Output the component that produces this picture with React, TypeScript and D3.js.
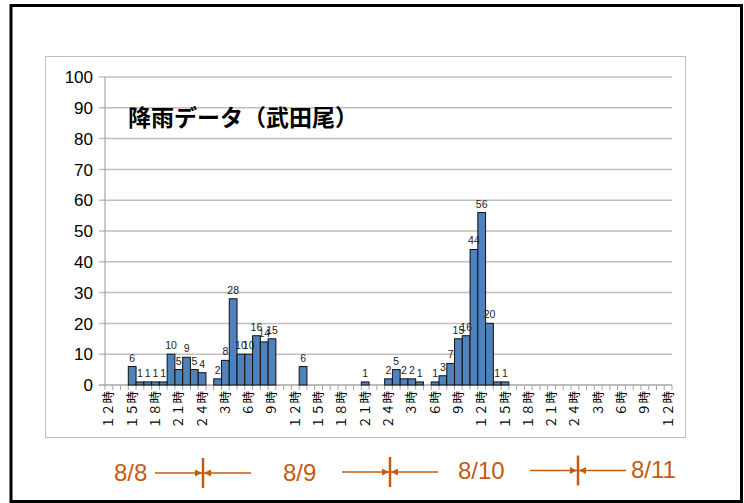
import React from 'react';
import * as d3 from 'd3';

// hourly rainfall, 8/8 12時 .. 8/11 12時 (73 slots)
const rain = [
  0, 0, 0, 6, 1, 1, 1, 1, 10, 5, 9, 5, 4,
  0, 2, 8, 28, 10, 10, 16, 14, 15, 0, 0, 0, 6,
  0, 0, 0, 0, 0, 0, 0, 1, 0, 0, 2, 5, 2, 2, 1,
  0, 1, 3, 7, 15, 16, 44, 56, 20, 1, 1,
  0, 0, 0, 0, 0, 0, 0, 0, 0, 0, 0, 0, 0, 0, 0, 0, 0, 0, 0, 0, 0,
];

const tickLabels = [
  '１２時', '１５時', '１８時', '２１時', '２４時', '３時', '６時', '９時',
  '１２時', '１５時', '１８時', '２１時', '２４時', '３時', '６時', '９時',
  '１２時', '１５時', '１８時', '２１時', '２４時', '３時', '６時', '９時',
  '１２時',
];

const yTicks = [0, 10, 20, 30, 40, 50, 60, 70, 80, 90, 100];
const dayLabels = ['8/8', '8/9', '8/10', '8/11'];

const W = 744;
const H = 503;
const plot = { left: 105, right: 672, top: 77, bottom: 385 };
const orange = '#C55A11';

const App = () => {
  const x = d3.scaleBand<number>()
    .domain(d3.range(rain.length))
    .range([plot.left, plot.right])
    .padding(0);
  const y = d3.scaleLinear().domain([0, 100]).range([plot.bottom, plot.top]);
  const bw = x.bandwidth();

  // day annotation positions along the bottom
  const dayX = [114, 283, 458, 631];
  const dayY = [472, 472, 470, 469];
  const sepX = [203, 390, 578];

  return (
    <svg width={W} height={H} style={{ position: 'absolute', left: 0, top: 0 }}>
      <defs>
        <marker id="ah" viewBox="0 0 10 10" refX="10" refY="5" markerWidth="7" markerHeight="7"
          orient="auto-start-reverse" markerUnits="userSpaceOnUse">
          <path d="M0,0 L10,5 L0,10 z" fill={orange} />
        </marker>
      </defs>
      <rect x={0} y={0} width={W} height={H} fill="#fff" />
      <rect x={11} y={5.5} width={730.5} height={496} fill="none" stroke="#000" strokeWidth={3} />
      <rect x={45.5} y={56.5} width={640} height={381} fill="none" stroke="#BFBFBF" strokeWidth={1} />

      {/* gridlines + y labels */}
      {yTicks.map(t => (
        <g key={t}>
          <line x1={plot.left - 6} x2={plot.right} y1={y(t)} y2={y(t)}
            stroke={t === 0 ? '#A6A6A6' : '#BFBFBF'} strokeWidth={1.5} />
          <text x={93} y={y(t)} dy="0.36em" textAnchor="end"
            fontFamily="'Liberation Sans', Arial, sans-serif" fontSize={17} fill="#000">{t}</text>
        </g>
      ))}
      <line x1={plot.left} x2={plot.left} y1={plot.top} y2={plot.bottom} stroke="#A6A6A6" strokeWidth={1.2} />

      {/* x ticks */}
      {d3.range(rain.length + 1).map(i => {
        const xx = plot.left + i * bw;
        return <line key={i} x1={xx} x2={xx} y1={plot.bottom} y2={plot.bottom + 5} stroke="#A6A6A6" strokeWidth={1} />;
      })}

      {/* bars */}
      {rain.map((v, i) => v > 0 && (
        <rect key={i} x={x(i)!} y={y(v)} width={bw} height={plot.bottom - y(v)}
          fill="#4F81BD" stroke="#111" strokeWidth={1} />
      ))}

      {/* data labels */}
      {rain.map((v, i) => v > 0 && (
        <text key={i} x={x(i)! + bw / 2} y={y(v) - 5} textAnchor="middle"
          fontFamily="'Liberation Sans', Arial, sans-serif" fontSize={10.5} fill="#222">{v}</text>
      ))}

      {/* x tick labels */}
      {tickLabels.map((lab, k) => {
        const cx = x(k * 3)! + bw / 2;
        return (
          <text key={k} transform={`translate(${cx + 4.5},${plot.bottom + 6}) rotate(-90)`}
            textAnchor="end" fontFamily="'Noto Sans CJK JP', sans-serif" fontSize={12.5} fill="#000">{lab}</text>
        );
      })}

      {/* title */}
      <text x={128} y={126} fontFamily="'Noto Sans CJK JP', sans-serif" fontWeight="bold" fontSize={23} fill="#000">
        降雨データ（武田尾）
      </text>

      {/* date annotations */}
      {dayLabels.map((d, k) => (
        <text key={d} x={dayX[k]} y={dayY[k]} dy="0.36em" fontFamily="'Liberation Sans', Arial, sans-serif"
          fontSize={24} fill={orange}>{d}</text>
      ))}
      {sepX.map((sx, k) => {
        const ay = (dayY[k] + dayY[k + 1]) / 2 + 1;
        const lx = k === 0 ? 155 : k === 1 ? 342 : 530;
        return (
          <g key={k}>
            <line x1={sx} x2={sx} y1={ay - 15} y2={ay + 15} stroke={orange} strokeWidth={2.5} />
            <line x1={lx} x2={sx - 1} y1={ay} y2={ay} stroke={orange} strokeWidth={1.3} markerEnd="url(#ah)" />
            <line x1={sx + 1} x2={sx + 48} y1={ay} y2={ay} stroke={orange} strokeWidth={1.3} markerStart="url(#ah)" />
          </g>
        );
      })}
    </svg>
  );
};

export default App;
